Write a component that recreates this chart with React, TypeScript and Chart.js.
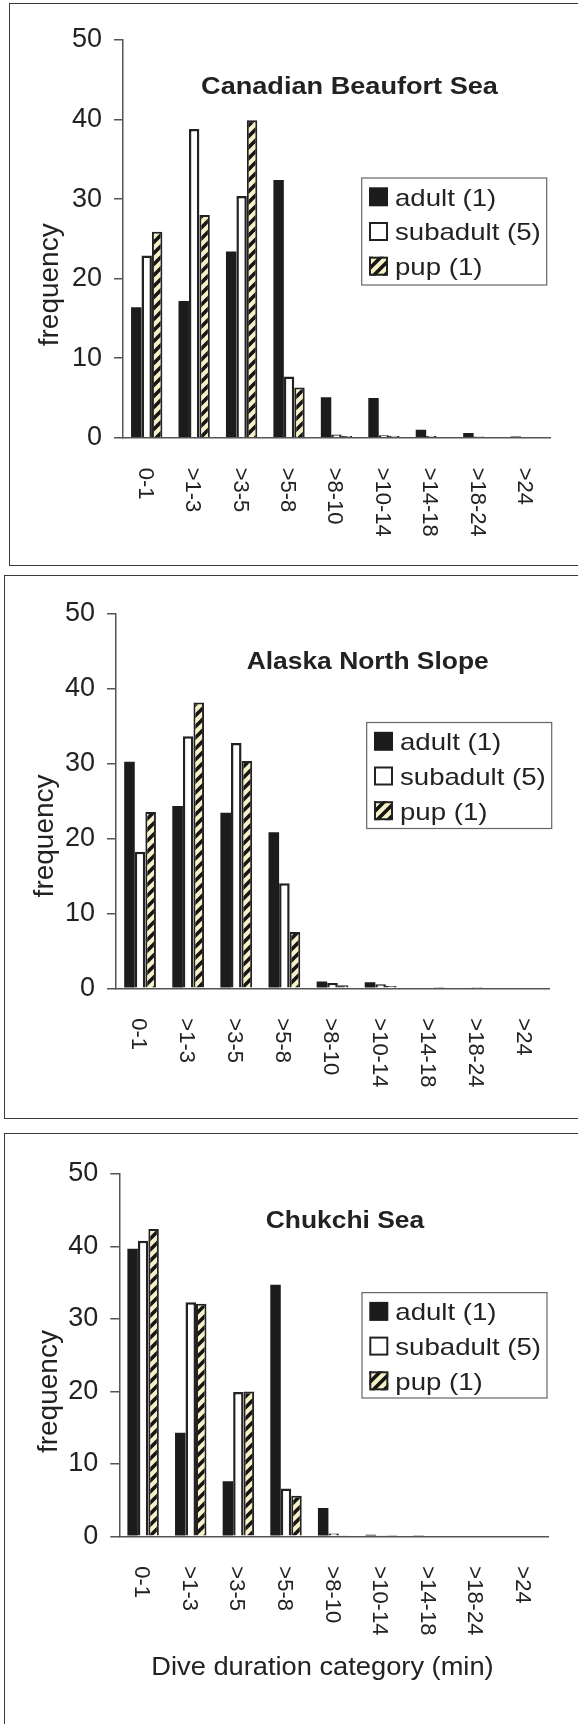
import React, { useEffect, useRef } from 'react';
import { Chart, registerables } from 'chart.js';

Chart.register(...registerables);

// ---------------- data ----------------
const categories = ['0-1', '>1-3', '>3-5', '>5-8', '>8-10', '>10-14', '>14-18', '>18-24', '>24'];
const seriesLabels = ['adult (1)', 'subadult (5)', 'pup (1)'];
const yTicks = [0, 10, 20, 30, 40, 50];

const beaufortAdult = [16.4, 17.2, 23.4, 32.4, 5.1, 5.0, 1.0, 0.6, 0.15];
const beaufortSubadult = [22.9, 38.8, 30.4, 7.7, 0.4, 0.3, 0.2, 0.15, 0.08];
const beaufortPup = [25.9, 28.0, 39.9, 6.3, 0.2, 0.2, 0, 0, 0];

const alaskaAdult = [30.2, 24.3, 23.4, 20.8, 0.9, 0.8, 0.1, 0.1, 0];
const alaskaSubadult = [18.2, 33.6, 32.7, 14.0, 0.7, 0.55, 0.1, 0.05, 0];
const alaskaPup = [23.5, 38.1, 30.3, 7.5, 0.4, 0.3, 0.05, 0, 0];

const chukchiAdult = [39.7, 14.3, 7.6, 34.7, 3.9, 0.2, 0.15, 0, 0];
const chukchiSubadult = [40.8, 32.3, 19.9, 6.6, 0.4, 0.15, 0, 0, 0];
const chukchiPup = [42.4, 32.1, 20.0, 5.6, 0.15, 0.05, 0, 0, 0];

const panelTitles = ['Canadian Beaufort Sea', 'Alaska North Slope', 'Chukchi Sea'];
const yAxisTitle = 'frequency';
const xAxisTitle = 'Dive duration category (min)';

// ---------------- styles ----------------
const FONT = '"Liberation Sans", Arial, Helvetica, sans-serif';
const TEXT = '#222222';
const AXIS = '#555555';
const EDGE = '#222222';
const ADULT = '#1c1c1c';
const SUB = '#ffffff';
const PUP_BG = '#f7f2c6';

type Layout = {
  canvasTop: number;
  canvasH: number;
  area: { left: number; right: number; top: number; bottom: number };
  title: { x: number; y: number; sx: number };
  legend: { x: number; y: number; w: number; h: number };
  freq: { x: number; y: number };
  xTitle?: { x: number; y: number };
  box: { left: number; top: number; height: number };
};

const layouts: Layout[] = [
  {
    canvasTop: 0,
    canvasH: 565,
    area: { left: 123, right: 550, top: 40, bottom: 437.7 },
    title: { x: 349.5, y: 94, sx: 1.13 },
    legend: { x: 361.7, y: 178, w: 185, h: 107 },
    freq: { x: 49.8, y: 284.8 },
    box: { left: 9, top: 3, height: 563 },
  },
  {
    canvasTop: 570,
    canvasH: 550,
    area: { left: 116, right: 549, top: 613.3, bottom: 988.3 },
    title: { x: 367.7, y: 669, sx: 1.1 },
    legend: { x: 366.7, y: 722.5, w: 185, h: 106 },
    freq: { x: 44.8, y: 835.9 },
    box: { left: 4, top: 574.5, height: 544 },
  },
  {
    canvasTop: 1125,
    canvasH: 599,
    area: { left: 119.3, right: 548, top: 1174, bottom: 1536.3 },
    title: { x: 345, y: 1228, sx: 1.1 },
    legend: { x: 362, y: 1292.6, w: 185, h: 105.4 },
    freq: { x: 48.9, y: 1391.6 },
    xTitle: { x: 322.5, y: 1674.7 },
    box: { left: 4, top: 1133, height: 700 },
  },
];

const panelData = [
  [beaufortAdult, beaufortSubadult, beaufortPup],
  [alaskaAdult, alaskaSubadult, alaskaPup],
  [chukchiAdult, chukchiSubadult, chukchiPup],
];

function makeTile(): HTMLCanvasElement {
  const P = 11;
  const c = document.createElement('canvas');
  c.width = P;
  c.height = P;
  const g = c.getContext('2d')!;
  g.fillStyle = PUP_BG;
  g.fillRect(0, 0, P, P);
  g.strokeStyle = '#151515';
  g.lineWidth = 3.6;
  g.beginPath();
  for (const o of [-P, 0, P]) {
    g.moveTo(o - 3, P + 3);
    g.lineTo(o + P + 3, -3);
  }
  g.stroke();
  return c;
}

function drawText(
  ctx: CanvasRenderingContext2D,
  s: string,
  x: number,
  y: number,
  font: string,
  align: CanvasTextAlign,
  baseline: CanvasTextBaseline,
  sx = 1,
  rot = 0
) {
  ctx.save();
  ctx.translate(x, y);
  if (rot) ctx.rotate(rot);
  ctx.scale(sx, 1);
  ctx.font = font;
  ctx.fillStyle = TEXT;
  ctx.textAlign = align;
  ctx.textBaseline = baseline;
  ctx.fillText(s, 0, 0);
  ctx.restore();
}

function Panel({ index }: { index: number }) {
  const ref = useRef<HTMLCanvasElement>(null);
  const L = layouts[index];

  useEffect(() => {
    const canvas = ref.current!;
    const pattern = canvas.getContext('2d')!.createPattern(makeTile(), 'repeat')!;
    const off = L.canvasTop;
    const [adult, sub, pup] = panelData[index];
    const yAxisW = 60;
    const xAxisH = 100;

    const decor = {
      id: 'decor' + index,
      afterDraw(chart: any) {
        const ctx: CanvasRenderingContext2D = chart.ctx;
        const xs = chart.scales.x;
        const area = chart.chartArea;
        // rotated category labels (reading top to bottom)
        categories.forEach((c, i) => {
          const x = xs.getPixelForValue(i);
          drawText(ctx, c, x - 2, area.bottom + 30, `22px ${FONT}`, 'left', 'middle', 1, Math.PI / 2);
        });
        // panel title
        drawText(ctx, panelTitles[index], L.title.x, L.title.y - off, `bold 24px ${FONT}`, 'center', 'alphabetic', L.title.sx);
        // y axis title
        drawText(ctx, yAxisTitle, L.freq.x, L.freq.y - off, `28px ${FONT}`, 'center', 'middle', 1, -Math.PI / 2);
        // x axis title
        if (L.xTitle) {
          drawText(ctx, xAxisTitle, L.xTitle.x, L.xTitle.y - off, `25px ${FONT}`, 'center', 'alphabetic', 1.09);
        }
        // legend
        const lg = L.legend;
        const ly = lg.y - off;
        ctx.save();
        ctx.fillStyle = '#ffffff';
        ctx.fillRect(lg.x, ly, lg.w, lg.h);
        ctx.strokeStyle = '#666666';
        ctx.lineWidth = 1.2;
        ctx.strokeRect(lg.x, ly, lg.w, lg.h);
        ctx.restore();
        const rowStep = (lg.h - 18.6) / 3 + 5.1;
        chart.data.datasets.forEach((ds: any, i: number) => {
          const sxp = lg.x + 7.3;
          const syp = ly + 9.3 + i * 34.7;
          const sz = 19;
          ctx.save();
          ctx.fillStyle = ds.backgroundColor;
          ctx.fillRect(sxp, syp, sz, sz);
          if (i > 0) {
            ctx.strokeStyle = EDGE;
            ctx.lineWidth = 2;
            ctx.strokeRect(sxp + 1, syp + 1, sz - 2, sz - 2);
          }
          ctx.restore();
          drawText(ctx, ds.label, lg.x + 33.3, syp + 18.3, `24px ${FONT}`, 'left', 'alphabetic', 1.15);
        });
        void rowStep;
      },
    };

    const chart = new Chart(canvas, {
      type: 'bar',
      data: {
        labels: categories,
        datasets: [
          { label: seriesLabels[0], data: adult, backgroundColor: ADULT, borderColor: ADULT, borderWidth: 0 },
          { label: seriesLabels[1], data: sub, backgroundColor: SUB, borderColor: EDGE, borderWidth: 2.5 },
          { label: seriesLabels[2], data: pup, backgroundColor: pattern as any, borderColor: EDGE, borderWidth: 2 },
        ],
      },
      options: {
        animation: false,
        responsive: false,
        layout: {
          padding: {
            left: L.area.left - yAxisW,
            right: 578 - L.area.right,
            top: L.area.top - off,
            bottom: L.canvasH - (L.area.bottom - off) - xAxisH,
          },
        },
        datasets: {
          bar: { categoryPercentage: 0.66, barPercentage: 1 },
        },
        plugins: {
          legend: { display: false },
          tooltip: { enabled: false },
          title: { display: false },
        },
        scales: {
          x: {
            grid: { display: false },
            border: { display: true, color: AXIS, width: 1.5 },
            ticks: { display: false },
            afterFit: (s: any) => {
              s.height = xAxisH;
            },
          },
          y: {
            min: yTicks[0],
            max: yTicks[yTicks.length - 1],
            ticks: {
              stepSize: yTicks[1] - yTicks[0],
              padding: 12,
              color: TEXT,
              font: { family: FONT, size: 27 },
            },
            grid: {
              display: true,
              drawOnChartArea: false,
              drawTicks: true,
              tickLength: 9,
              color: AXIS,
              lineWidth: 1.5,
            },
            border: { display: true, color: AXIS, width: 1.5 },
            afterFit: (s: any) => {
              s.width = yAxisW;
            },
          },
        },
      },
      plugins: [decor],
    } as any);

    return () => chart.destroy();
  }, []);

  return (
    <canvas
      ref={ref}
      width={578}
      height={L.canvasH}
      style={{ position: 'absolute', left: 0, top: L.canvasTop, width: 578, height: L.canvasH }}
    />
  );
}

export default function App() {
  return (
    <div
      style={{
        position: 'absolute',
        left: 0,
        top: 0,
        width: 578,
        height: 1724,
        overflow: 'hidden',
        background: '#ffffff',
      }}
    >
      {layouts.map((L, i) => (
        <div
          key={'b' + i}
          style={{
            position: 'absolute',
            left: L.box.left,
            top: L.box.top,
            width: 640,
            height: L.box.height,
            boxSizing: 'border-box',
            border: '1.5px solid #3a3a3a',
          }}
        />
      ))}
      {layouts.map((_, i) => (
        <Panel key={'p' + i} index={i} />
      ))}
    </div>
  );
}
